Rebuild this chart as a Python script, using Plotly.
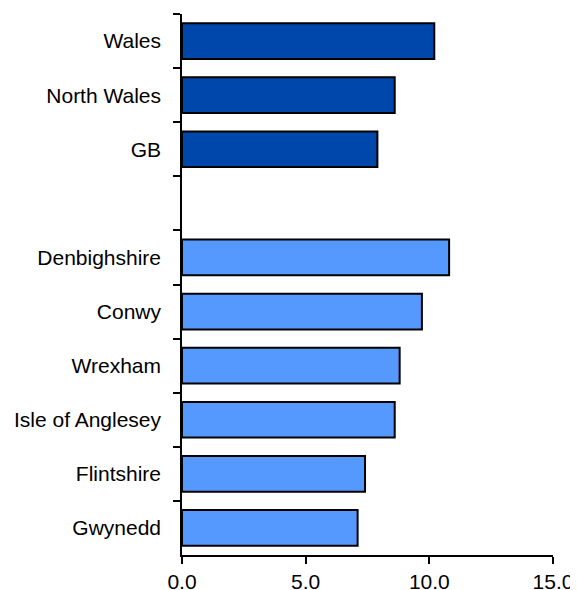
import plotly.graph_objects as go

categories = ["Wales", "North Wales", "GB", " ", "Denbighshire", "Conwy",
              "Wrexham", "Isle of Anglesey", "Flintshire", "Gwynedd"]
values = [10.2, 8.6, 7.9, None, 10.8, 9.7, 8.8, 8.6, 7.4, 7.1]
groups = ["summary", "summary", "summary", "blank", "la", "la", "la", "la", "la", "la"]
x_ticks = [0, 5, 10, 15]
x_tick_labels = ["0.0", "5.0", "10.0", "15.0"]

color_map = {"summary": "#0047AB", "blank": "#FFFFFF", "la": "#5599FF"}
colors = [color_map[g] for g in groups]

fig = go.Figure(go.Bar(
    x=values, y=categories, orientation="h",
    marker=dict(color=colors, line=dict(color="black", width=2)),
    hoverinfo="x+y",
))

font = dict(family="Liberation Sans, Arial, sans-serif", size=21, color="black")

# page body has an 8px default margin, so the figure is sized to fit inside it
fig.update_layout(
    width=570, height=582,
    margin=dict(l=174, r=25, t=6, b=35),
    paper_bgcolor="white", plot_bgcolor="white",
    bargap=0.34,
    showlegend=False,
    font=font,
    xaxis=dict(
        range=[0, 15], tickvals=x_ticks, ticktext=x_tick_labels,
        showgrid=False, zeroline=False, automargin=False,
        showline=True, linecolor="black", linewidth=1.5,
        ticks="outside", ticklen=7, tickwidth=1.5, tickcolor="black",
        tickfont=font,
    ),
    yaxis=dict(
        categoryorder="array", categoryarray=categories,
        autorange="reversed", automargin=False,
        showgrid=False, zeroline=False,
        showline=True, linecolor="black", linewidth=1.5,
        ticks="outside", ticklen=7, tickwidth=1.5, tickcolor="black",
        tickson="boundaries",
        tickfont=font,
        ticklabelstandoff=15,
    ),
)

fig.write_html("out.html")
